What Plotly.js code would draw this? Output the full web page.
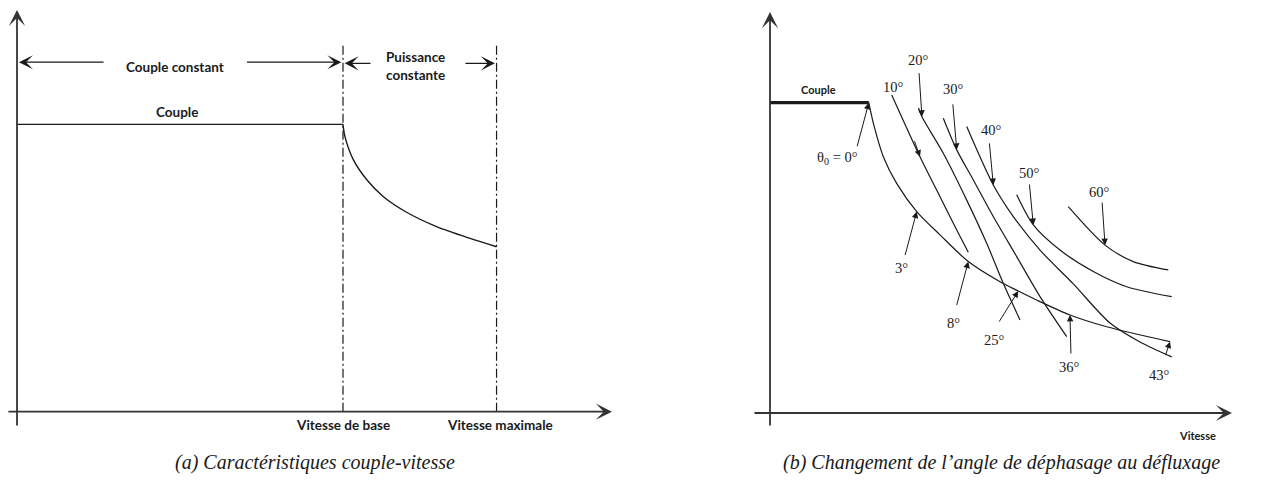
<!DOCTYPE html>
<html><head><meta charset="utf-8">
<script src="https://cdn.plot.ly/plotly-3.0.1.min.js"></script>
<style>html,body{margin:0;padding:0;background:#fff}#chart{width:1266px;height:487px}</style>
</head><body><div id="chart"></div>
<script>
// ================= DATA =================
// Panel (a) : caractéristiques couple-vitesse (vitesse de base = 1, couple nominal = 1)
const aTorqueSpeed  = [0, 1.0];
const aTorqueValue  = [1.0, 1.0];
const aPowerSpeed   = [1.000, 1.006, 1.032, 1.073, 1.124, 1.195, 1.287, 1.390, 1.471];
const aPowerTorque  = [1.000, 0.957, 0.876, 0.807, 0.748, 0.694, 0.644, 0.603, 0.574];
const aSpeedMarks   = [1.0, 1.471];
const aSpeedLabels  = ['Vitesse de base', 'Vitesse maximale'];
const aZoneLabels   = ['Couple constant', 'Puissance<br>constante'];

// Panel (b) : changement de l'angle de déphasage au défluxage
const bCoupleSpeed  = [0, 1.0];
const bCoupleValue  = [1.0, 1.0];
const bEnvSpeed     = [1.000, 1.046, 1.147, 1.282, 1.485, 1.721, 2.007, 2.328, 2.513, 2.699, 3.036, 3.408, 4.049];
const bEnvTorque    = [1.000, 0.934, 0.826, 0.740, 0.649, 0.574, 0.488, 0.423, 0.393, 0.364, 0.316, 0.278, 0.230];
const bEnvAngles    = ['θ<sub>0</sub> = 0°', '3°', '8°', '25°', '36°', '43°'];
const bEnvAngleIdx  = [0, 4, 6, 8, 10, 12];

const c10Speed  = [1.232, 1.518, 1.721, 1.890, 2.007];
const c10Torque = [1.025, 0.826, 0.697, 0.590, 0.518];
const c20Speed  = [1.503, 1.538, 1.754, 1.991, 2.193, 2.361, 2.530];
const c20Torque = [0.983, 0.955, 0.837, 0.686, 0.547, 0.418, 0.300];
const c30Speed  = [1.754, 1.890, 2.058, 2.260, 2.497, 2.733, 3.003];
const c30Torque = [0.950, 0.848, 0.751, 0.633, 0.504, 0.375, 0.246];
const c40Speed  = [1.991, 2.260, 2.463, 2.733, 3.070, 3.441, 3.745, 4.066];
const c40Torque = [0.923, 0.735, 0.633, 0.525, 0.416, 0.290, 0.229, 0.181];
const c50Speed  = [2.497, 2.665, 2.935, 3.272, 3.610, 4.066];
const c50Torque = [0.703, 0.606, 0.525, 0.456, 0.407, 0.375];
const c60Speed  = [3.019, 3.391, 3.677, 4.031];
const c60Torque = [0.665, 0.541, 0.488, 0.461];
const curveAngles  = ['10°', '20°', '30°', '40°', '50°', '60°'];
const curveMarkIdx = [1, 1, 1, 1, 1, 1];
const bAxisLabel = 'Vitesse';

// ================= LAYOUT HELPERS =================
const W = 1266, H = 487;
const panels = {
  a: {dom: [0, 633], ox: 17, oy: 411.7, ux: 326, uy: 287.4},
  b: {dom: [633, 1266], ox: 770, oy: 413, ux: 98.8, uy: 310.3}
};
function xr(p){ return [(p.dom[0]-p.ox)/p.ux, (p.dom[1]-p.ox)/p.ux]; }
function yr(p){ return [(p.oy-H)/p.uy, p.oy/p.uy]; }

const ink = '#1a1a1a';
const axisInk = '#333';
const sans = 'Lato, "Open Sans", sans-serif';
const serif = '"Liberation Serif", "DejaVu Serif", serif';

function line(x, y, xa, ya, w, extra){
  return {x: x, y: y, xaxis: xa, yaxis: ya, mode: 'lines', hoverinfo: 'skip',
    line: Object.assign({color: ink, width: w, shape: 'spline', smoothing: 0.8}, extra || {})};
}

const traces = [];
// Panel (a)
traces.push(line(aTorqueSpeed, aTorqueValue, 'x', 'y', 1.3));
traces.push(line(aPowerSpeed, aPowerTorque, 'x', 'y', 1.4));
const aTop = (panels.a.oy - 43) / panels.a.uy;
aSpeedMarks.forEach(s => {
  traces.push({x: [s, s], y: [0, aTop], xaxis: 'x', yaxis: 'y', mode: 'lines', hoverinfo: 'skip',
    line: {color: ink, width: 1.2, dash: '9px,3px,2px,3px'}});
});
// Panel (b)
traces.push(line(bCoupleSpeed, bCoupleValue, 'x2', 'y2', 3.2));
traces.push(line(bEnvSpeed, bEnvTorque, 'x2', 'y2', 1.2));
const curves = [[c10Speed, c10Torque], [c20Speed, c20Torque], [c30Speed, c30Torque],
                [c40Speed, c40Torque], [c50Speed, c50Torque], [c60Speed, c60Torque]];
curves.forEach(c => traces.push(line(c[0], c[1], 'x2', 'y2', 1.2)));

const ann = [];
function arrow(xref, yref, x0, y0, x1, y1, opts){
  ann.push(Object.assign({xref: xref, yref: yref, axref: xref, ayref: yref, x: x1, y: y1, ax: x0, ay: y0,
    text: '', showarrow: true, arrowhead: 3, arrowsize: 1, arrowwidth: 1.2, arrowcolor: ink, standoff: 0}, opts || {}));
}
function label(xref, yref, x, y, text, font, extra){
  ann.push(Object.assign({xref: xref, yref: yref, x: x, y: y, text: text, showarrow: false, font: font,
    xanchor: 'center', yanchor: 'middle'}, extra || {}));
}
// axes (a)
arrow('x', 'y', 0, -0.053, 0, 1.398, {arrowwidth: 1.8, arrowsize: 1.5, arrowcolor: axisInk});
arrow('x', 'y', -0.031, 0, 1.825, 0, {arrowwidth: 1.8, arrowsize: 1.5, arrowcolor: axisInk});
// axes (b)
arrow('x2', 'y2', 0, -0.045, 0, 1.292, {arrowwidth: 1.8, arrowsize: 1.5, arrowcolor: axisInk});
arrow('x2', 'y2', -0.172, 0, 4.676, 0, {arrowwidth: 1.8, arrowsize: 1.5, arrowcolor: axisInk});

// panel (a) zone arrows
const fA = {family: sans, size: 13.5, color: ink, weight: 700};
arrow('x', 'y', 0.27, 1.216, 0.006, 1.216, {arrowsize: 1.8, arrowwidth: 1.3});
arrow('x', 'y', 0.701, 1.216, 0.995, 1.216, {arrowsize: 1.8, arrowwidth: 1.3});
arrow('x', 'y', 1.089, 1.212, 1.005, 1.212, {arrowsize: 1.8, arrowwidth: 1.3});
arrow('x', 'y', 1.371, 1.212, 1.466, 1.212, {arrowsize: 1.8, arrowwidth: 1.3});
label('x', 'y', 0.485, 1.200, aZoneLabels[0], fA);
label('x', 'y', 1.221, 1.204, aZoneLabels[1], fA);
label('x', 'y', 0.491, 1.044, 'Couple', fA);
aSpeedMarks.forEach((s, i) => label('x', 'y', s + (i ? 0.01 : 0), -0.046, aSpeedLabels[i], fA));

// panel (b)
const fB = {family: sans, size: 11, color: ink, weight: 700};
const fDeg = {family: serif, size: 14.5, color: ink};
label('x2', 'y2', 0.486, 1.041, 'Couple', fB);
label('x2', 'y2', 4.322, -0.071, bAxisLabel, fB);

// envelope angle markers: pixel offsets of arrow tails and label positions
const envTail = [[-12, 45], [-12, 45], [-12, 45], [-20, 32], [1, 40], [-5, 15]];
const envLab  = [[0.688, 0.822], [1.333, 0.466], [1.860, 0.289], [2.277, 0.235], [3.036, 0.149], [3.947, 0.122]];
bEnvAngleIdx.forEach((k, i) => {
  ann.push({xref: 'x2', yref: 'y2', x: bEnvSpeed[k], y: bEnvTorque[k], ax: envTail[i][0], ay: envTail[i][1],
    text: '', showarrow: true, arrowhead: 2, arrowsize: 1.3, arrowwidth: 1, arrowcolor: ink, standoff: 0});
  label('x2', 'y2', envLab[i][0], envLab[i][1], bEnvAngles[i], fDeg);
});
const curveTail = [[-6, -17], [-3, -45], [-4, -47], [-4, -43], [-4, -42], [-3, -44]];
const curveLab  = [[1.255, 1.051], [1.498, 1.138], [1.858, 1.044], [2.244, 0.912], [2.631, 0.773], [3.340, 0.713]];
curves.forEach((c, i) => {
  const k = curveMarkIdx[i];
  ann.push({xref: 'x2', yref: 'y2', x: c[0][k], y: c[1][k], ax: curveTail[i][0], ay: curveTail[i][1],
    text: '', showarrow: true, arrowhead: 2, arrowsize: 1.3, arrowwidth: 1, arrowcolor: ink, standoff: 0});
  label('x2', 'y2', curveLab[i][0], curveLab[i][1], curveAngles[i], fDeg);
});

// captions
const fCap = {family: serif, size: 20, color: ink, style: 'italic'};
label('paper', 'paper', 315 / W, 1 - 462 / H, '<i>(a) Caractéristiques couple-vitesse</i>', fCap);
label('paper', 'paper', 1001 / W, 1 - 462 / H, '<i>(b) Changement de l’angle de déphasage au défluxage</i>', fCap);

const hidden = {visible: false, fixedrange: true};
const layout = {
  width: W, height: H, margin: {l: 0, r: 0, t: 0, b: 0},
  paper_bgcolor: '#fff', plot_bgcolor: 'rgba(0,0,0,0)', showlegend: false, hovermode: false,
  xaxis:  Object.assign({domain: [panels.a.dom[0] / W, panels.a.dom[1] / W], range: xr(panels.a)}, hidden),
  yaxis:  Object.assign({domain: [0, 1], range: yr(panels.a)}, hidden),
  xaxis2: Object.assign({domain: [panels.b.dom[0] / W, panels.b.dom[1] / W], range: xr(panels.b), anchor: 'y2'}, hidden),
  yaxis2: Object.assign({domain: [0, 1], range: yr(panels.b), anchor: 'x2'}, hidden),
  annotations: ann
};
Plotly.newPlot('chart', traces, layout, {displayModeBar: false, staticPlot: true});
</script></body></html>
